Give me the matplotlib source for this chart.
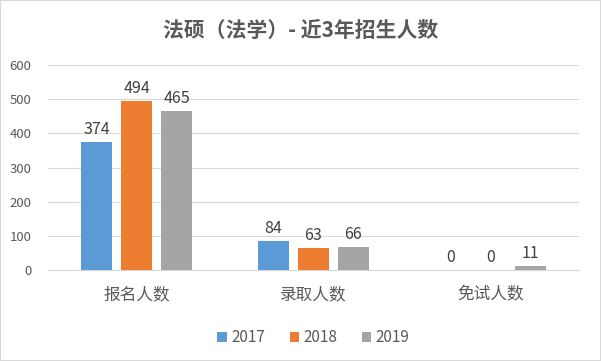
import matplotlib
matplotlib.use("Agg")
import matplotlib.pyplot as plt
import numpy as np

plt.rcParams['font.family'] = ['Noto Sans CJK SC', 'DejaVu Sans']

categories = ["报名人数", "录取人数", "免试人数"]
years = ["2017", "2018", "2019"]
v2017 = [374, 84, 0]
v2018 = [494, 63, 0]
v2019 = [465, 66, 11]
colors = ["#5B9BD5", "#ED7D31", "#A5A5A5"]
title = "法硕（法学）- 近3年招生人数"

fig = plt.figure(figsize=(6.01, 3.61), dpi=100)
fig.patch.set_facecolor("white")
ax = fig.add_axes([0.08, 0.252, 0.883, 0.568])

x = np.arange(len(categories))
w = 0.175
step = 0.226
txtc = "#595959"
for i, (vals, yr, c) in enumerate(zip([v2017, v2018, v2019], years, colors)):
    bars = ax.bar(x + (i - 1) * step, vals, width=w, color=c, label=yr, zorder=3)
    for b, v in zip(bars, vals):
        ax.text(b.get_x() + b.get_width() / 2, v + 12, str(v), ha="center", va="bottom",
                fontsize=11.5, color="#404040")

ax.set_xlim(-0.5, 2.5)
ax.set_ylim(0, 600)
ax.set_yticks(range(0, 601, 100))
ax.set_xticks(x)
ax.set_xticklabels(categories, fontsize=12, color=txtc)
ax.tick_params(axis="y", labelsize=9.5, colors=txtc, length=0, pad=12)
ax.tick_params(axis="x", length=0, pad=12)
ax.grid(axis="y", color="#D9D9D9", linewidth=0.8, zorder=0)
ax.set_axisbelow(True)
for s in ["top", "right", "left"]:
    ax.spines[s].set_visible(False)
ax.spines["bottom"].set_color("#D9D9D9")

fig.text(0.5, 0.917, title, ha="center", va="center", fontsize=15, color=txtc, fontweight="bold")

ax.legend(loc="center", bbox_to_anchor=(0.5, -0.33), ncol=3, frameon=False,
          fontsize=11, handlelength=0.6, handleheight=0.6, handletextpad=0.3, columnspacing=1.6,
          labelcolor=txtc)

border = plt.Rectangle((0, 0), 1, 1, transform=fig.transFigure, fill=False, edgecolor="#D9D9D9", linewidth=1.5)
fig.patches.append(border)

fig.savefig("out.png", dpi=100)
